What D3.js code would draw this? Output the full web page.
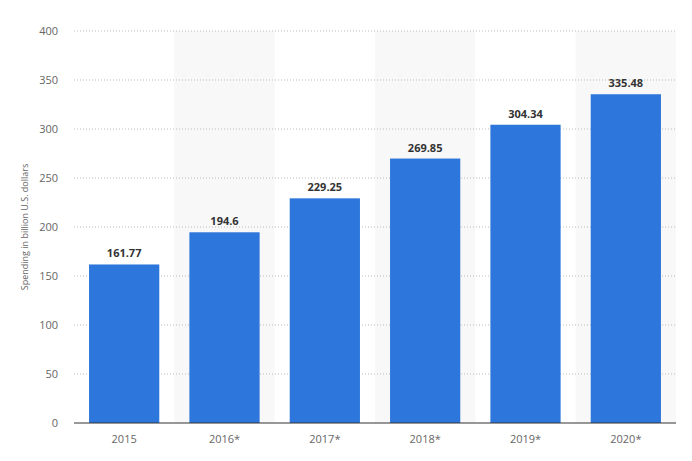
<!DOCTYPE html>
<html><head><meta charset="utf-8">
<script src="https://cdn.jsdelivr.net/npm/d3@7"></script>
<style>body{margin:0;background:#fff;font-family:"Open Sans",sans-serif;}</style>
</head><body><svg width="692" height="461"></svg>
<script>
const years = ["2015", "2016*", "2017*", "2018*", "2019*", "2020*"];
const spending = [161.77, 194.6, 229.25, 269.85, 304.34, 335.48];
const yTicks = [0, 50, 100, 150, 200, 250, 300, 350, 400];

const svg = d3.select("svg");
const m = {l: 74, r: 16, t: 31, b: 38};
const w = 692 - m.l - m.r, h = 461 - m.t - m.b;
const g = svg.append("g").attr("transform", `translate(${m.l},${m.t})`);

const x = d3.scaleBand().domain(years).range([0, w]).paddingInner(0.3).paddingOuter(0.15);
const band = d3.scaleBand().domain(years).range([0, w]);
const y = d3.scaleLinear().domain([0, 400]).range([h, 0]);

g.selectAll("rect.bg").data(years.filter((d, i) => i % 2 == 1)).enter().append("rect")
  .attr("x", d => band(d)).attr("y", 0).attr("width", band.bandwidth()).attr("height", h)
  .attr("fill", "#f8f8f8");

g.selectAll("line.grid").data(yTicks.slice(1)).enter().append("line")
  .attr("x1", 0).attr("x2", w).attr("y1", d => y(d)).attr("y2", d => y(d))
  .attr("stroke", "#bbb").attr("stroke-dasharray", "1,2");

g.selectAll("text.yt").data(yTicks).enter().append("text")
  .attr("x", -16).attr("y", d => y(d)).attr("dy", "0.35em").attr("text-anchor", "end")
  .attr("font-size", 11).attr("fill", "#666").text(d => d);

g.selectAll("rect.bar").data(spending).enter().append("rect")
  .attr("x", (d, i) => x(years[i])).attr("width", x.bandwidth())
  .attr("y", d => y(d)).attr("height", d => h - y(d)).attr("fill", "#2d76dc");

g.selectAll("text.val").data(spending).enter().append("text")
  .attr("x", (d, i) => x(years[i]) + x.bandwidth() / 2).attr("y", d => y(d) - 7)
  .attr("text-anchor", "middle").attr("font-size", 11).attr("font-weight", "bold")
  .attr("fill", "#333").text(d => d);

g.append("line").attr("x1", 0).attr("x2", w).attr("y1", h).attr("y2", h).attr("stroke", "#333");

g.selectAll("text.xt").data(years).enter().append("text")
  .attr("x", d => band(d) + band.bandwidth() / 2).attr("y", h + 20)
  .attr("text-anchor", "middle").attr("font-size", 11).attr("fill", "#666").text(d => d);

svg.append("text").attr("transform", `translate(28,${m.t + h / 2}) rotate(-90)`)
  .attr("text-anchor", "middle").attr("font-size", 9).attr("fill", "#666")
  .text("Spending in billion U.S. dollars");
</script></body></html>
